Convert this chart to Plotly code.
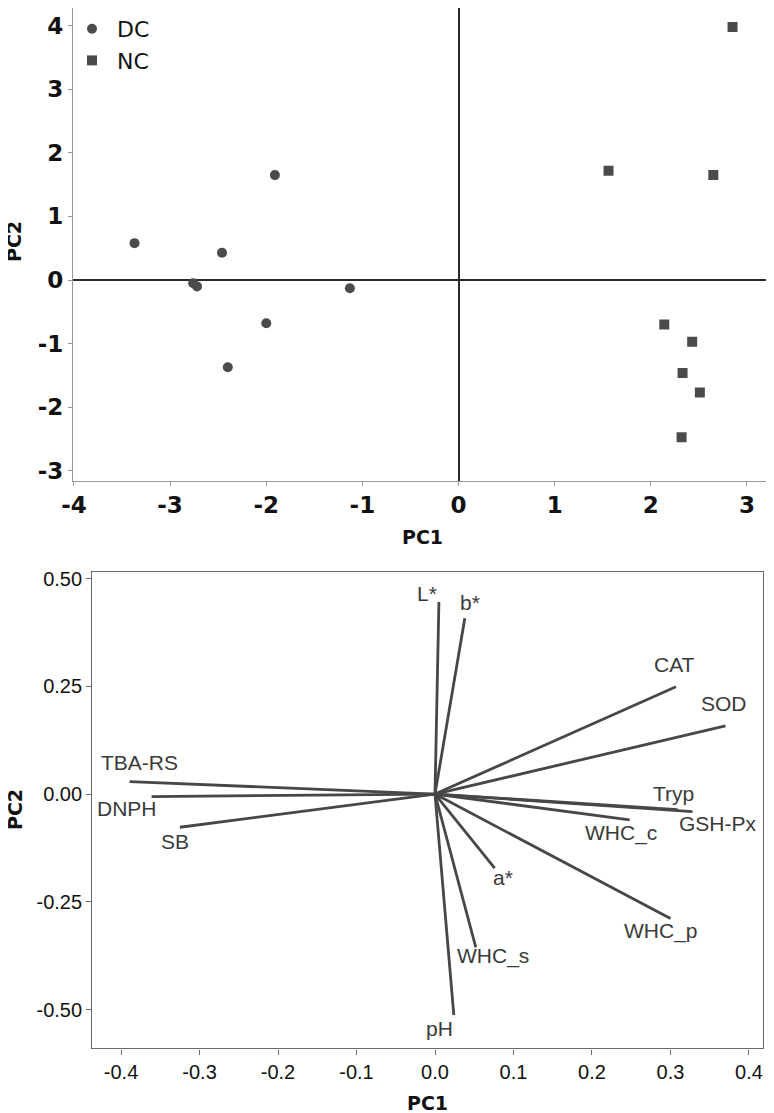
import plotly.graph_objects as go

# ---------------- data ----------------
dc_pc1 = [-3.37, -1.91, -2.46, -2.76, -2.72, -1.13, -2.00, -2.40]
dc_pc2 = [0.58, 1.65, 0.43, -0.05, -0.10, -0.13, -0.68, -1.37]
nc_pc1 = [2.85, 1.56, 2.65, 2.14, 2.43, 2.33, 2.51, 2.32]
nc_pc2 = [3.98, 1.72, 1.65, -0.70, -0.97, -1.46, -1.77, -2.47]

var_names = ["L*", "b*", "CAT", "SOD", "Tryp", "GSH-Px", "WHC_c", "a*",
             "WHC_p", "WHC_s", "pH", "TBA-RS", "DNPH", "SB"]
load_pc1 = [0.005, 0.038, 0.307, 0.370, 0.309, 0.328, 0.248, 0.076,
            0.300, 0.052, 0.024, -0.389, -0.361, -0.325]
load_pc2 = [0.446, 0.408, 0.249, 0.158, -0.036, -0.041, -0.060, -0.172,
            -0.289, -0.356, -0.513, 0.029, -0.006, -0.077]

top_xticks = [-4, -3, -2, -1, 0, 1, 2, 3]
top_xtext = ["-4", "-3", "-2", "-1", "0", "1", "2", "3"]
top_yticks = [-3, -2, -1, 0, 1, 2, 3, 4]
top_ytext = ["-3", "-2", "-1", "0", "1", "2", "3", "4"]
bot_xticks = [-0.4, -0.3, -0.2, -0.1, 0.0, 0.1, 0.2, 0.3, 0.4]
bot_xtext = ["-0.4", "-0.3", "-0.2", "-0.1", "0.0", "0.1", "0.2", "0.3", "0.4"]
bot_yticks = [-0.5, -0.25, 0.0, 0.25, 0.5]
bot_ytext = ["-0.50", "-0.25", "0.00", "0.25", "0.50"]

# label offsets in pixels (style only): (dx, dy up)
label_dx = [-12, 5, -1, -1, -4, 26, -9, 8, -9, 17, -14, 10, -25, -5]
label_dy = [8, 16, 22, 22, 16, -12, -13, -9, -12, -9, -13, 19, -12, -14]

# ---------------- layout geometry ----------------
OFF = 8                      # page body margin of the browser
W, H = 774 - OFF, 1113 - OFF


def fx(px):
    return min(1.0, max(0.0, (px - OFF) / W))


def fy(py):
    return min(1.0, max(0.0, 1 - (py - OFF) / H))


mark_col = "#4b4b4b"
line_col = "#474747"
bold_font = "DejaVu Sans"
reg_font = "Liberation Sans, Arial"

fig = go.Figure()

fig.add_trace(go.Scatter(x=dc_pc1, y=dc_pc2, mode="markers", name="DC",
                         marker=dict(symbol="circle", size=10, color=mark_col),
                         xaxis="x", yaxis="y"))
fig.add_trace(go.Scatter(x=nc_pc1, y=nc_pc2, mode="markers", name="NC",
                         marker=dict(symbol="square", size=10, color=mark_col),
                         xaxis="x", yaxis="y"))

lx, ly = [], []
for a, b in zip(load_pc1, load_pc2):
    lx += [0, a, None]
    ly += [0, b, None]
fig.add_trace(go.Scatter(x=lx, y=ly, mode="lines", showlegend=False,
                         line=dict(color=line_col, width=2.8),
                         xaxis="x2", yaxis="y2"))

annotations = []
for n, a, b, dx, dy in zip(var_names, load_pc1, load_pc2, label_dx, label_dy):
    annotations.append(dict(x=a, y=b, xref="x2", yref="y2", text=n,
                            showarrow=False, xshift=dx, yshift=dy,
                            xanchor="center", yanchor="middle",
                            font=dict(family=reg_font, size=21, color="#3a3a3a")))

title_font = dict(family=bold_font, size=19, color="#111111", weight="bold")
annotations += [
    dict(x=fx(422), y=fy(537), xref="paper", yref="paper", text="PC1",
         showarrow=False, xanchor="center", yanchor="middle", font=title_font),
    dict(x=fx(14), y=fy(242), xref="paper", yref="paper", text="PC2",
         showarrow=False, xanchor="center", yanchor="middle", textangle=-90, font=title_font),
    dict(x=fx(15), y=fy(810), xref="paper", yref="paper", text="PC2",
         showarrow=False, xanchor="center", yanchor="middle", textangle=-90, font=title_font),
    dict(x=fx(427), y=fy(1103), xref="paper", yref="paper", text="PC1",
         showarrow=False, xanchor="center", yanchor="middle", font=title_font),
]

top_tick_font = dict(family=bold_font, size=23, color="#111111", weight="bold")
bot_tick_font = dict(family=reg_font, size=20, color="#111111")

fig.update_layout(
    width=W, height=H,
    margin=dict(l=0, r=0, t=0, b=0, autoexpand=False),
    paper_bgcolor="white", plot_bgcolor="white",
    showlegend=True,
    legend=dict(x=fx(67), y=1.0, xanchor="left", yanchor="top",
                bgcolor="rgba(0,0,0,0)", itemwidth=40,
                font=dict(family="DejaVu Sans", size=22, color="#111111"),
                tracegroupgap=0),
    xaxis=dict(domain=[fx(73), fx(771)], range=[-4.01, 3.25], automargin=False,
               tickvals=top_xticks, ticktext=top_xtext, tickfont=top_tick_font,
               showgrid=False, zeroline=True, zerolinecolor="#2a2a2a", zerolinewidth=1.6,
               showline=True, linecolor="#9a9a9a", linewidth=1.3, mirror=True,
               ticks="outside", ticklen=4, tickcolor="#9a9a9a", anchor="y"),
    yaxis=dict(domain=[fy(480.7), 1.0], range=[-3.155, 4.277], automargin=False,
               tickvals=top_yticks, ticktext=top_ytext, tickfont=top_tick_font,
               showgrid=False, zeroline=True, zerolinecolor="#2a2a2a", zerolinewidth=1.6,
               showline=True, linecolor="#9a9a9a", linewidth=1.3, mirror=True,
               ticks="outside", ticklen=4, tickcolor="#9a9a9a", anchor="x"),
    xaxis2=dict(domain=[fx(92.3), fx(762.7)], range=[-0.4366, 0.4175], automargin=False,
                tickvals=bot_xticks, ticktext=bot_xtext, tickfont=bot_tick_font,
                showgrid=False, zeroline=False,
                showline=True, linecolor="#6a6a6a", linewidth=1.4, mirror=True,
                ticks="outside", ticklen=5, tickcolor="#6a6a6a", anchor="y2"),
    yaxis2=dict(domain=[fy(1048.3), fy(571.7)], range=[-0.59, 0.516], automargin=False,
                tickvals=bot_yticks, ticktext=bot_ytext, tickfont=bot_tick_font,
                showgrid=False, zeroline=False,
                showline=True, linecolor="#6a6a6a", linewidth=1.4, mirror=True,
                ticks="outside", ticklen=5, tickcolor="#6a6a6a", anchor="x2"),
    annotations=annotations,
)

fig.write_html("out.html")
